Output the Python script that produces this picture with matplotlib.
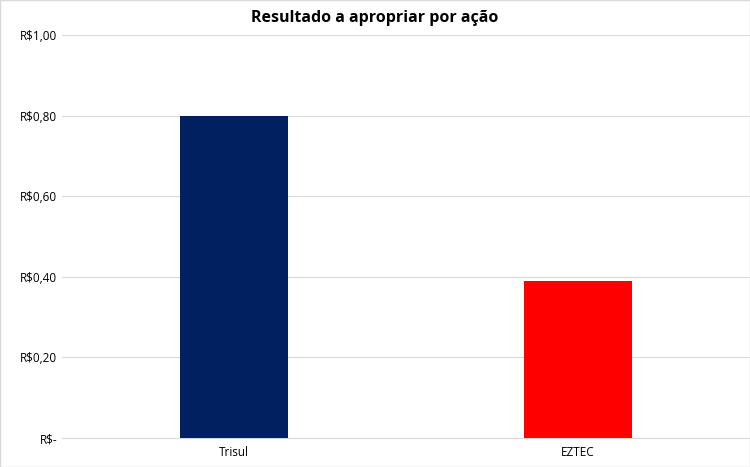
import matplotlib.pyplot as plt
import matplotlib.ticker as mticker

plt.rcParams['font.family'] = ['Open Sans', 'DejaVu Sans']

empresas = ["Trisul", "EZTEC"]
valores = [0.80, 0.39]
cores = ["#002060", "#FF0000"]

def fmt_real(v, pos):
    if abs(v) < 1e-9:
        return "R$-"
    return ("R$%.2f" % v).replace(".", ",")

fig = plt.figure(figsize=(7.5, 4.67), dpi=100)
ax = fig.add_axes([0.083, 0.062, 0.917, 0.863])

ax.bar(range(len(empresas)), valores, width=0.314, color=cores, zorder=3)
ax.set_xlim(-0.5, 1.5)
ax.set_ylim(0, 1.0)
ax.yaxis.set_major_locator(mticker.MultipleLocator(0.2))
ax.yaxis.set_major_formatter(mticker.FuncFormatter(fmt_real))
ax.set_xticks(range(len(empresas)))
ax.set_xticklabels(empresas)
ax.grid(axis='y', color='#D9D9D9', linewidth=0.8, zorder=0)
ax.tick_params(axis='both', length=0, labelsize=8.5, colors='black')
ax.tick_params(axis='x', pad=6)
for s in ['top', 'right', 'left']:
    ax.spines[s].set_visible(False)
ax.spines['bottom'].set_color('#D9D9D9')

fig.text(0.5, 0.962, "Resultado a apropriar por ação", ha='center', va='center',
         fontsize=11.5, fontweight='bold')
fig.patches.append(plt.Rectangle((0, 0), 1, 1, transform=fig.transFigure,
                                 fill=False, edgecolor='#D9D9D9', linewidth=1))

fig.savefig("out.png", dpi=100)
